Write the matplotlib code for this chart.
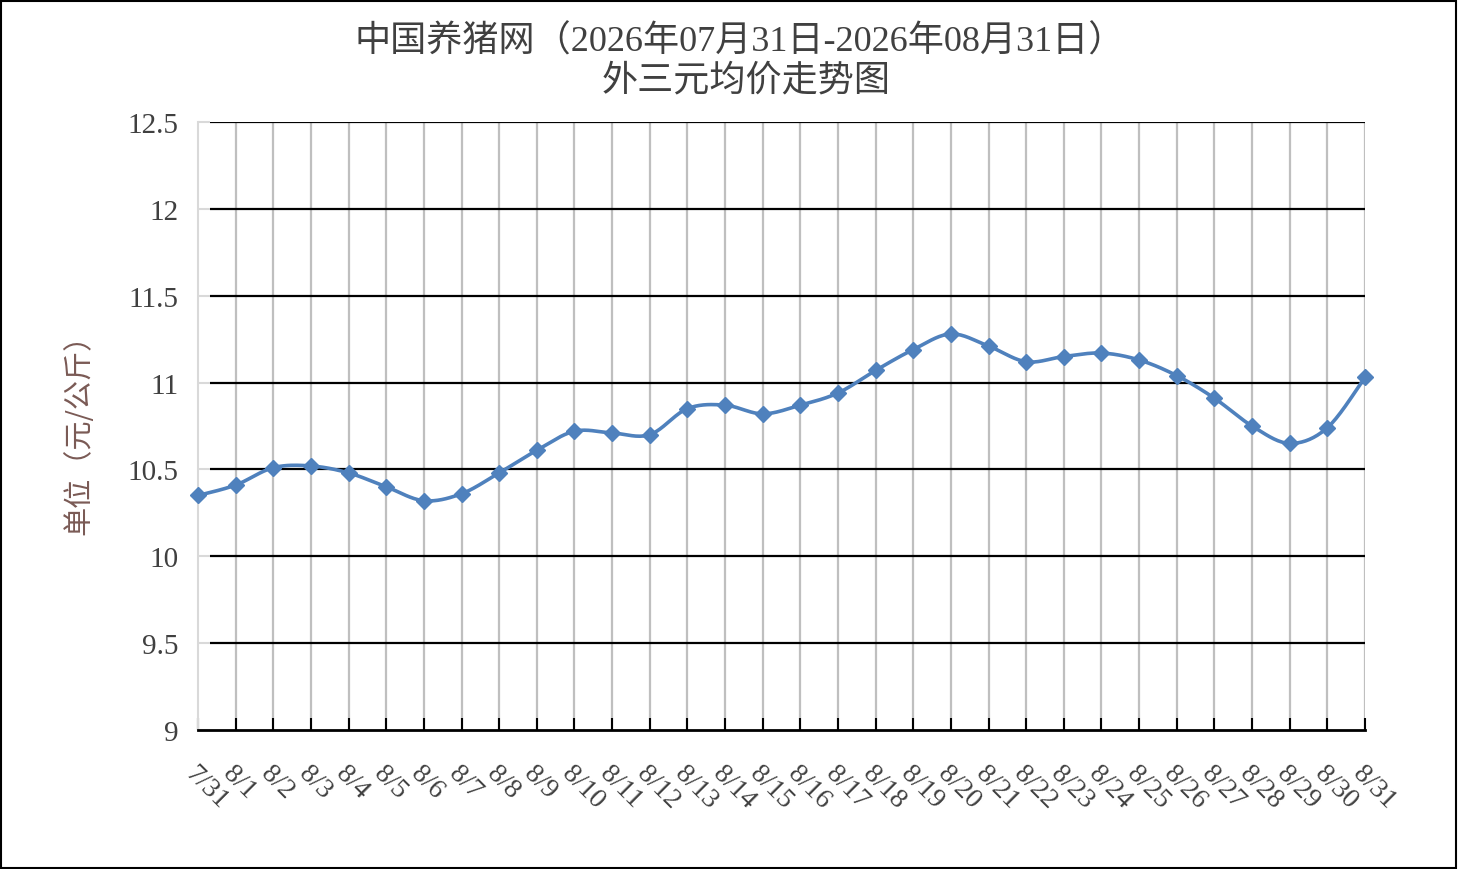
import matplotlib
matplotlib.use("Agg")
import matplotlib.pyplot as plt
from matplotlib.patches import Rectangle
import numpy as np

# 数据
dates = ["7/31", "8/1", "8/2", "8/3", "8/4", "8/5", "8/6", "8/7", "8/8", "8/9",
         "8/10", "8/11", "8/12", "8/13", "8/14", "8/15", "8/16", "8/17", "8/18",
         "8/19", "8/20", "8/21", "8/22", "8/23", "8/24", "8/25", "8/26", "8/27",
         "8/28", "8/29", "8/30", "8/31"]
prices = [10.35, 10.41, 10.51, 10.52, 10.48, 10.40, 10.32, 10.36, 10.48, 10.61,
          10.72, 10.71, 10.70, 10.85, 10.87, 10.82, 10.87, 10.94, 11.07,
          11.19, 11.28, 11.21, 11.12, 11.15, 11.17, 11.13, 11.04, 10.91,
          10.75, 10.65, 10.74, 11.03]
y_ticks = [9, 9.5, 10, 10.5, 11, 11.5, 12, 12.5]
title_lines = ["中国养猪网（2026年07月31日-2026年08月31日）", "外三元均价走势图"]
y_label = "单位（元/公斤）"

cjk = ["Liberation Serif", "Noto Sans CJK SC", "DejaVu Sans"]
plt.rcParams["font.family"] = cjk
txt_color = "#404040"
blue = "#4f81bd"


def smooth(xs, ys, n=20):
    # 类似Excel的平滑线 (Catmull-Rom -> Bezier)
    p = np.column_stack([xs, ys]).astype(float)
    p = np.vstack([p[0], p, p[-1]])
    out = []
    for i in range(1, len(p) - 2):
        p0, p1, p2, p3 = p[i - 1], p[i], p[i + 1], p[i + 2]
        c1 = p1 + (p2 - p0) / 6
        c2 = p2 - (p3 - p1) / 6
        t = np.linspace(0, 1, n)[:, None]
        seg = ((1 - t) ** 3) * p1 + 3 * ((1 - t) ** 2) * t * c1 + 3 * (1 - t) * t ** 2 * c2 + t ** 3 * p2
        out.append(seg if i == 1 else seg[1:])
    out = np.vstack(out)
    return out[:, 0], out[:, 1]


fig = plt.figure(figsize=(14.58, 8.70), dpi=100)
ax = fig.add_axes([198 / 1458, 139 / 870, 1167 / 1458, 608 / 870])

x = np.arange(len(dates))
sx, sy = smooth(x, prices)
ax.plot(sx, sy, color=blue, lw=2.6, zorder=3, clip_on=False)
ax.plot(x, prices, linestyle="none", marker="D", markersize=8.5, color=blue,
        zorder=4, clip_on=False)

ax.set_xlim(0, len(dates) - 1)
ax.set_ylim(9, 12.5)

# 网格
ax.vlines(x[1:], 9, 12.5, colors="#bfbfbf", lw=1.6, zorder=1)
ax.hlines(y_ticks[1:], 12 / 1167, 1, colors="black", lw=1.6, zorder=1,
          transform=ax.get_yaxis_transform())

for s in ["top", "right"]:
    ax.spines[s].set_visible(False)
ax.spines["left"].set_color("#d9d9d9")
ax.spines["left"].set_linewidth(1.5)
ax.spines["bottom"].set_color("black")
ax.spines["bottom"].set_linewidth(2)

ax.set_yticks(y_ticks)
ax.set_yticklabels([f"{v:g}" for v in y_ticks])
ax.tick_params(axis="y", direction="in", length=8.6, width=1.5, color="#d9d9d9",
               pad=14, labelsize=21, labelcolor=txt_color)

ax.set_xticks(x)
ax.set_xticklabels(dates, rotation=-45, ha="left", va="top", rotation_mode="anchor")
ax.tick_params(axis="x", direction="in", length=8.6, width=1.5, color="black",
               pad=22, labelsize=20, labelcolor=txt_color)

ax.set_ylabel(y_label, fontsize=21, color="#7a5a55", labelpad=24,
              family=["Noto Sans CJK SC", "DejaVu Sans"])

fig.text(740 / 1458, 1 - 42 / 870, title_lines[0], ha="center", va="center",
         fontsize=26, color=txt_color)
fig.text(746 / 1458, 1 - 82 / 870, title_lines[1], ha="center", va="center",
         fontsize=26, color=txt_color)

fig.patches.append(Rectangle((1 / 1458, 1 / 870), 1455 / 1458, 867 / 870,
                             transform=fig.transFigure, fill=False,
                             edgecolor="black", lw=1.5))

fig.savefig("out.png", dpi=100)
